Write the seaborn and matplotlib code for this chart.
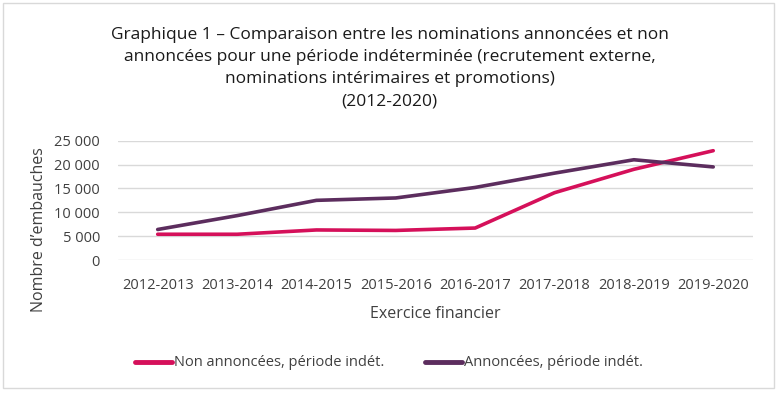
import matplotlib
matplotlib.use("Agg")
import matplotlib.pyplot as plt
from matplotlib.patches import Rectangle
import seaborn as sns
import pandas as pd

# chart data
exercices = ["2012-2013", "2013-2014", "2014-2015", "2015-2016",
             "2016-2017", "2017-2018", "2018-2019", "2019-2020"]
non_annoncees = [5400, 5400, 6300, 6200, 6700, 14100, 19000, 22900]
annoncees = [6400, 9300, 12500, 13000, 15200, 18200, 21000, 19500]
series_names = ["Non annoncées, période indét.", "Annoncées, période indét."]
yticks = [0, 5000, 10000, 15000, 20000, 25000]

df = pd.DataFrame({
    "exercice": exercices * 2,
    "valeur": non_annoncees + annoncees,
    "serie": [series_names[0]] * len(exercices) + [series_names[1]] * len(exercices),
})

sns.set_theme(style="white")
plt.rcParams['font.family'] = ['Open Sans', 'DejaVu Sans']

fig = plt.figure(figsize=(7.79, 3.94), dpi=100)
ax = fig.add_axes([0.1515, 0.340, 0.815, 0.303])

palette = {series_names[0]: "#D5105A", series_names[1]: "#5C2D5E"}
sns.lineplot(data=df, x="exercice", y="valeur", hue="serie", palette=palette,
             linewidth=2.6, ax=ax, sort=False, legend=False)

ax.set_xlim(-0.5, len(exercices) - 0.5)
ax.set_ylim(0, 25000)
ax.set_yticks(yticks)
ax.set_yticklabels([f"{v:,}".replace(",", " ") for v in yticks])
ax.yaxis.grid(True, color="#D9D9D9", linewidth=1)
ax.set_axisbelow(True)
for s in ax.spines.values():
    s.set_visible(False)
ax.tick_params(axis="x", length=0, labelsize=10.5, labelcolor="#404040", pad=13)
ax.tick_params(axis="y", length=0, labelsize=10.5, labelcolor="#404040", pad=13)
ax.set_xlabel("Exercice financier", fontsize=11.5, color="#404040", labelpad=9)
ax.set_ylabel("")
fig.text(39 / 779, 1 - 230 / 394, "Nombre d\u2019embauches", rotation=90,
         ha="center", va="center", fontsize=11.5, color="#404040")

fig.text(0.5, 1 - 68 / 394,
         "Graphique 1 \u2013 Comparaison entre les nominations annoncées et non\n"
         "annoncées pour une période indéterminée (recrutement externe,\n"
         "nominations intérimaires et promotions)\n(2012-2020)",
         ha="center", va="center", fontsize=12.5, color="#1a1a1a", linespacing=1.5)

# legend drawn by hand at the bottom
for name, x0 in zip(series_names, [135, 425]):
    y = 1 - 362 / 394
    fig.add_artist(plt.Line2D([x0 / 779, (x0 + 37) / 779], [y, y],
                              color=palette[name], linewidth=3.5,
                              solid_capstyle="round"))
    fig.text((x0 + 39) / 779, y, name, ha="left", va="center",
             fontsize=10.5, color="#404040")

fig.add_artist(Rectangle((3 / 779, 6 / 394), 771 / 779, 385 / 394,
                         transform=fig.transFigure, fill=False,
                         edgecolor="#D9D9D9", linewidth=1))

fig.savefig("out.png", dpi=100)
